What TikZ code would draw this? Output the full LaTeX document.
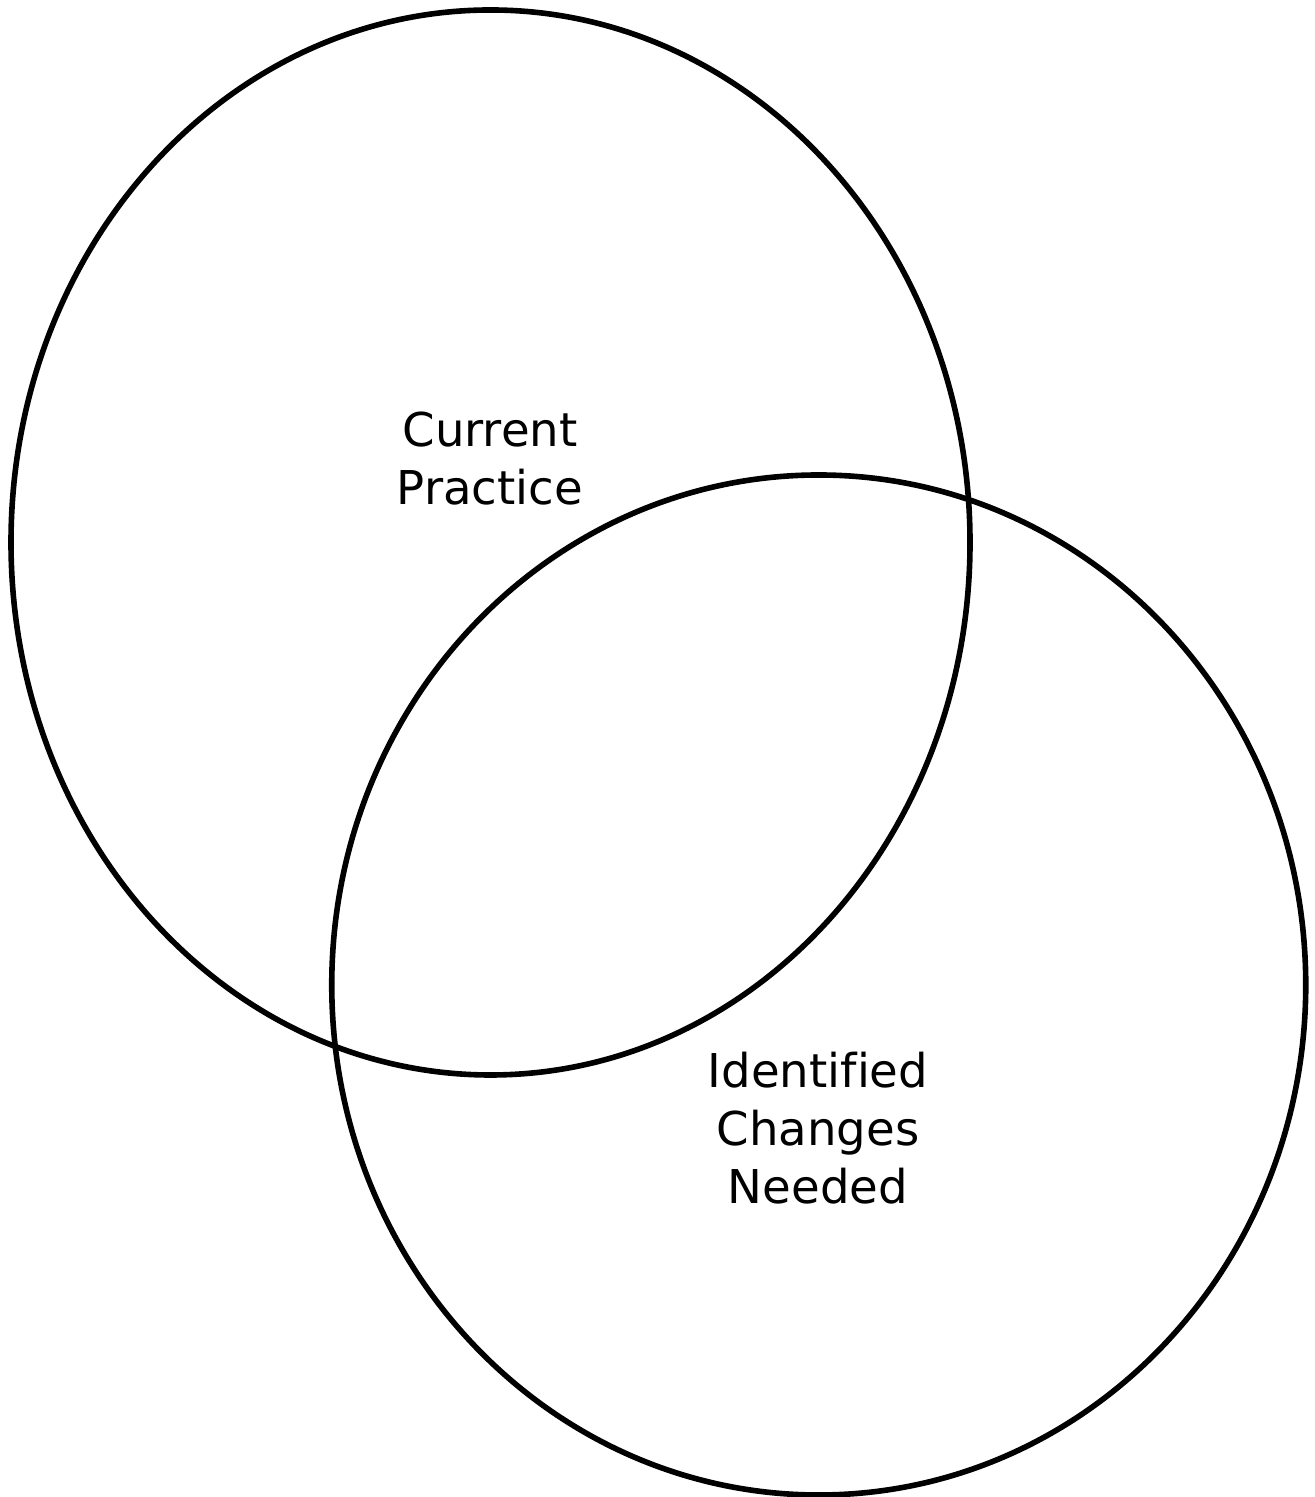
\documentclass[tikz,border=0pt]{standalone}
\usepackage{fontspec}
\setmainfont[Ligatures=NoCommon]{DejaVu Sans}
\usepackage{tikz}
\usetikzlibrary{positioning}
\tikzset{
  setring/.style={black, line width=2.8pt},
  setlabel/.style={align=center, font=\fontsize{23.3}{29}\selectfont}
}

\begin{document}
\begin{tikzpicture}[x=0.5pt, y=0.5pt]
\useasboundingbox (0,0) rectangle (1314,1497);
% the two sets
\draw[setring] (490.5,954.5) ellipse [x radius=479.5, y radius=532.5];
\draw[setring] (818.75,512) ellipse [x radius=487, y radius=510];
\node[setlabel] (current) at (490,1038) {Current\\Practice};
\node[setlabel] (changes) at (818,369) {Identified\\Changes\\Needed};
\end{tikzpicture}
\end{document}
